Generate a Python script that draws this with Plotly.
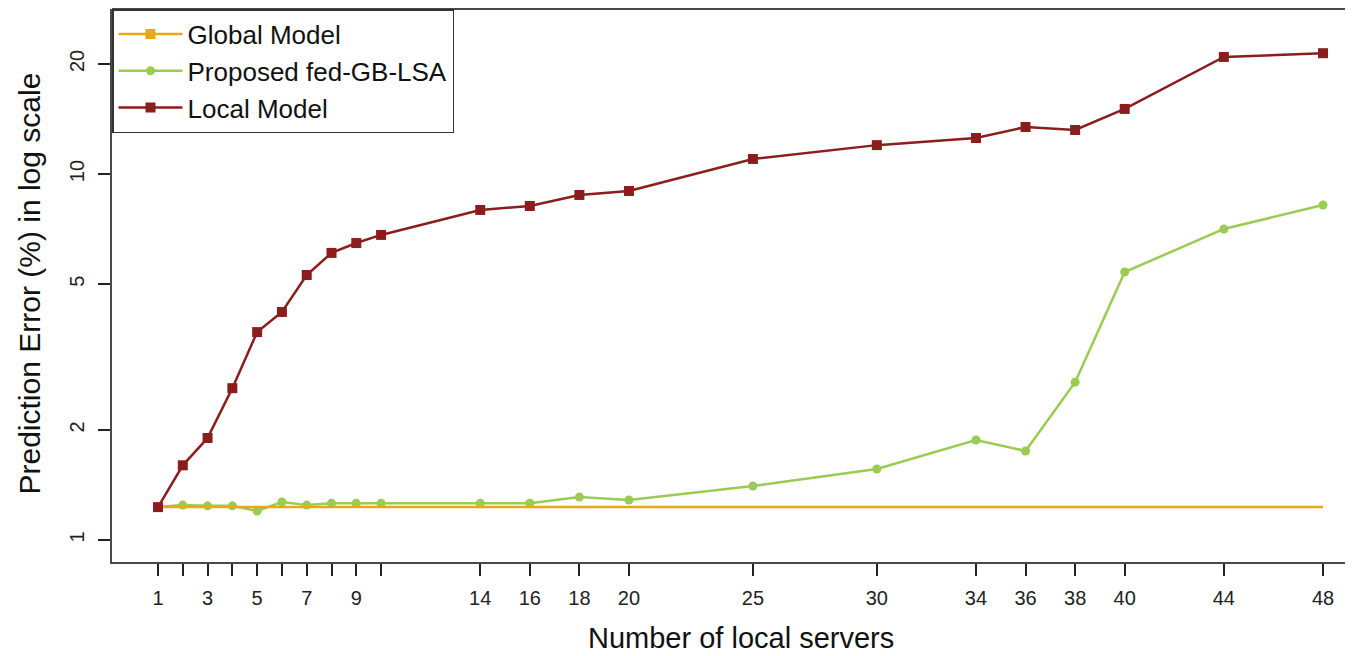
import plotly.graph_objects as go

# ---- data ----
servers = [1, 2, 3, 4, 5, 6, 7, 8, 9, 10, 14, 16, 18, 20, 25, 30, 34, 36, 38, 40, 44, 48]
local_model = [1.23, 1.60, 1.90, 2.60, 3.70, 4.20, 5.30, 6.09, 6.48, 6.82, 7.98, 8.18,
               8.77, 8.99, 11.0, 12.0, 12.55, 13.45, 13.2, 15.07, 20.9, 21.4]
proposed = [1.23, 1.246, 1.24, 1.24, 1.20, 1.27, 1.246, 1.26, 1.26, 1.26, 1.26, 1.26,
            1.31, 1.286, 1.405, 1.563, 1.877, 1.751, 2.70, 5.40, 7.08, 8.23]
global_model = [1.23] * len(servers)
x_tick_labels = ["1", "", "3", "", "5", "", "7", "", "9", "", "14", "16", "18", "20",
                 "25", "30", "34", "36", "38", "40", "44", "48"]
y_tick_vals = [1, 2, 5, 10, 20]
y_tick_labels = ["1", "2", "5", "10", "20"]

C_GLOBAL = "#E8A917"
C_PROP = "#9ACB52"
C_LOCAL = "#8B1D1D"
FONT = "Liberation Sans, Arial, sans-serif"

# page body has an 8px margin; compensate so plot box lands where the reference has it
OFF = 8
W, H = 1353 - OFF, 656 - OFF
L, R, T, B = 112 - OFF, 0, 9 - OFF, 94

fig = go.Figure()
fig.add_trace(go.Scatter(x=servers, y=proposed, mode="lines+markers", name="Proposed fed-GB-LSA",
                         line=dict(color=C_PROP, width=2.5),
                         marker=dict(symbol="circle", size=9, color=C_PROP), legendrank=2))
fig.add_trace(go.Scatter(x=servers, y=global_model, mode="lines", name="Global Model",
                         line=dict(color=C_GLOBAL, width=2.5), showlegend=False))
fig.add_trace(go.Scatter(x=[None], y=[None], mode="lines+markers", name="Global Model",
                         line=dict(color=C_GLOBAL, width=2.5),
                         marker=dict(symbol="square", size=10, color=C_GLOBAL), legendrank=1))
fig.add_trace(go.Scatter(x=servers, y=local_model, mode="lines+markers", name="Local Model",
                         line=dict(color=C_LOCAL, width=2.5),
                         marker=dict(symbol="square", size=10, color=C_LOCAL), legendrank=3))

# pixel positions of the reference (page coords)
px_left, px_right = 112, 1353
scale = (1323 - 158) / 47.0
x_lo = 1 - (158 - px_left) / scale
x_hi = 48 + (px_right - 1323) / scale

fig.update_xaxes(range=[x_lo, x_hi], tickvals=servers, ticktext=x_tick_labels,
                 showgrid=False, zeroline=False, showline=True, linecolor="#4a4a4a", linewidth=2,
                 ticks="outside", ticklen=12, tickwidth=1.5, tickcolor="#222",
                 ticklabelstandoff=5,
                 tickfont=dict(family=FONT, size=20, color="#222"))
fig.update_yaxes(type="log", range=[-0.0601, 1.4512], tickvals=y_tick_vals, ticktext=y_tick_labels,
                 tickangle=-90, showgrid=False, zeroline=False, showline=True,
                 linecolor="#4a4a4a", linewidth=2, ticks="outside", ticklen=12, tickwidth=1.5,
                 tickcolor="#222", ticklabelstandoff=6,
                 tickfont=dict(family=FONT, size=20, color="#222"))

fig.add_shape(type="line", xref="paper", yref="paper", x0=0, x1=1, y0=1, y1=1,
              line=dict(color="#4a4a4a", width=2))

pw = W - L - R
ph = H - T - B
plot_bottom = 562  # page px
fig.add_annotation(text="Number of local servers", xref="paper", yref="paper",
                   x=(740.5 - px_left) / pw, y=(plot_bottom - 637.5) / ph,
                   xanchor="center", yanchor="middle",
                   showarrow=False, font=dict(family=FONT, size=29, color="#111"))
fig.add_annotation(text="Prediction Error (%) in log scale", xref="paper", yref="paper",
                   x=(29 - px_left) / pw, y=(plot_bottom - 283.5) / ph,
                   xanchor="center", yanchor="middle",
                   textangle=-90, showarrow=False, font=dict(family=FONT, size=30, color="#111"))

fig.update_layout(width=W, height=H, margin=dict(l=L, r=R, t=T, b=B),
                  plot_bgcolor="white", paper_bgcolor="white",
                  legend=dict(x=0, y=1, xanchor="left", yanchor="top", bgcolor="white",
                              bordercolor="#333", borderwidth=1.5, itemwidth=64,
                              font=dict(family=FONT, size=26, color="#111"),
                              traceorder="normal"))

fig.write_html("out.html")
